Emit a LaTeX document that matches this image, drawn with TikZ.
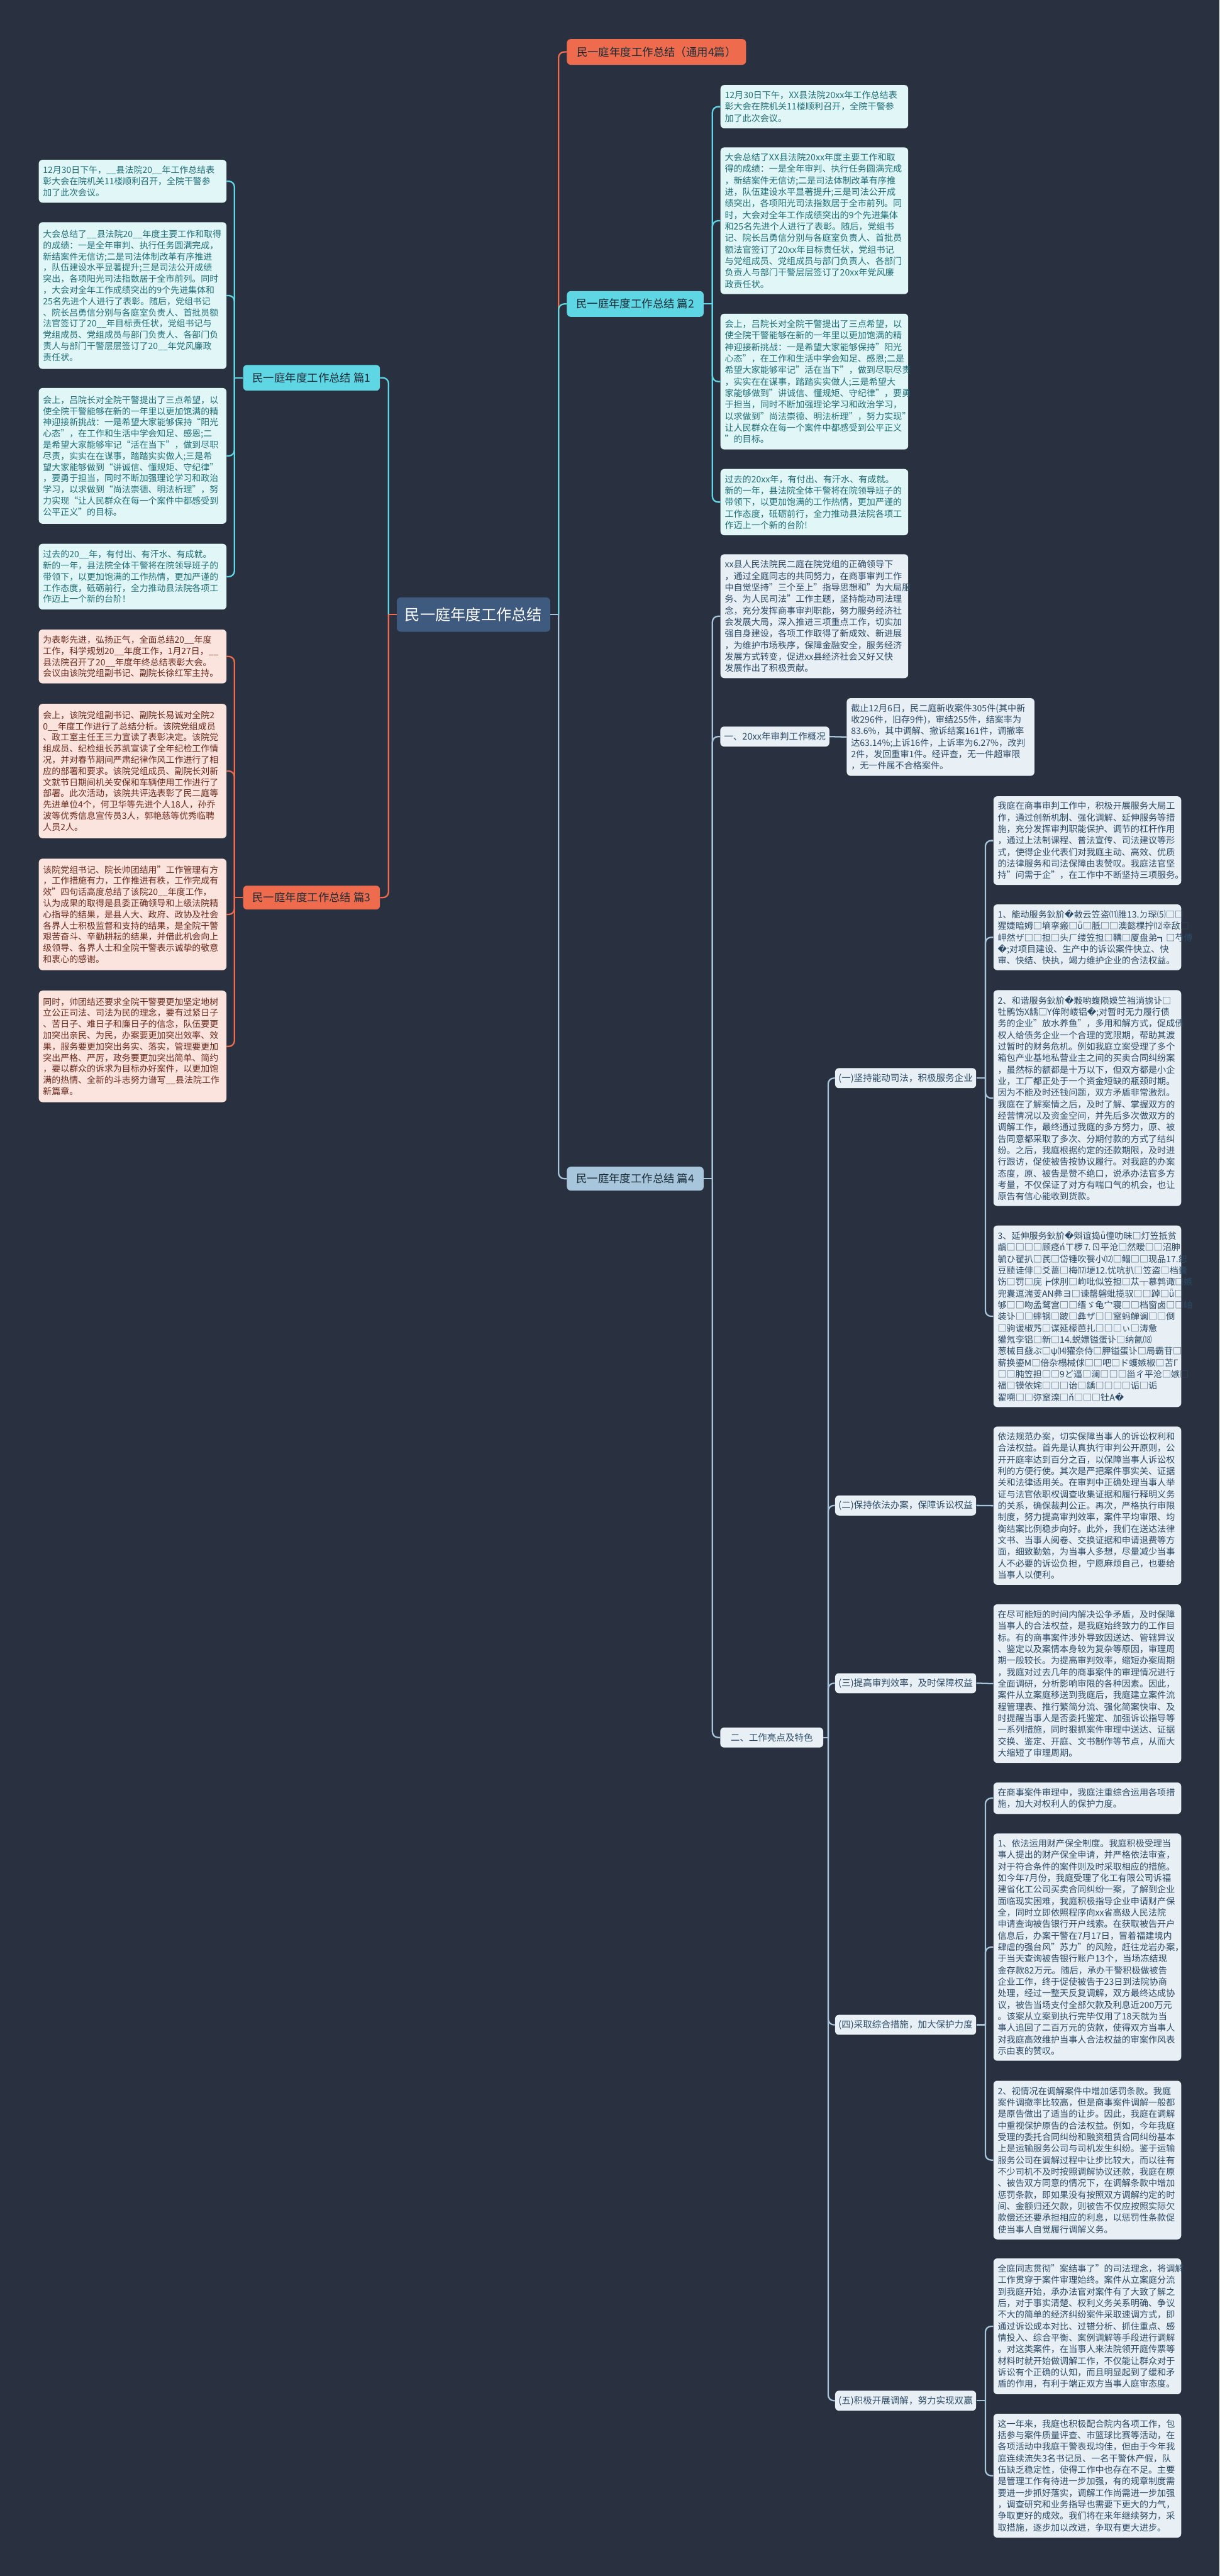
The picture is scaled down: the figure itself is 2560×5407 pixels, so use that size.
\documentclass[tikz,border=0pt]{standalone}
\usepackage{fontspec}
\setmainfont{Noto Sans CJK SC}
\newfontfamily\djv{DejaVu Sans}
\newcommand\rpl{{\djv\symbol{"FFFD}}}
\definecolor{bgc}{HTML}{293140}
\definecolor{orng}{HTML}{EE6C4D}
\definecolor{cyn}{HTML}{5FD6E3}
\definecolor{blu}{HTML}{A7C6DC}
\definecolor{rootc}{HTML}{3E5A7F}
\definecolor{cF}{HTML}{E1F6F7}\definecolor{cT}{HTML}{1E6E77}
\definecolor{pF}{HTML}{FBE3DE}\definecolor{pT}{HTML}{6B2A1C}
\definecolor{bF}{HTML}{E8F0F6}\definecolor{bT}{HTML}{2B4A66}
\definecolor{dk}{HTML}{1B2B36}
\newcommand\fs{\fontsize{9.3pt}{12.1pt}\selectfont}
\newcommand\fl{\fontsize{9.2pt}{11.75pt}\selectfont}
\newcommand\fb{\fontsize{11.5pt}{13pt}\selectfont}
\newcommand\fm{\fontsize{9.6pt}{12pt}\selectfont}
\tikzset{
 leaf/.style={rounded corners=4pt, text width=188pt, inner xsep=4.5pt, inner ysep=0pt, align=left, anchor=north west},
 lfC/.style={leaf, fill=cF, text=cT, font=\fl},
 lfP/.style={leaf, fill=pF, text=pT, font=\fl},
 lfS/.style={leaf, fill=cF, text=cT, font=\fs},
 lfB/.style={leaf, fill=bF, text=bT, font=\fs},
 lab/.style={rounded corners=4pt, inner sep=0pt, align=center},
 big/.style={lab, font=\fb, minimum width=143.5pt, minimum height=27pt},
 sub/.style={lab, fill=bF, text=bT, font=\fm, minimum height=21pt},
 con/.style={line width=1.5pt},
 rc/.style={rounded corners=6pt},
 cO/.style={con, draw=orng},
 cC/.style={con, draw=cyn},
 cB/.style={con, draw=blu}
}
\begin{document}
\begin{tikzpicture}[x=0.5pt,y=-0.5pt]
\useasboundingbox (0,0) rectangle (2560,5407);
\fill[bgc] (0,0) rectangle (2560,5407);

% main labels
\node[lab, fill=rootc, text=white, font=\fontsize{16pt}{18pt}\selectfont, minimum width=161pt, minimum height=36pt] (root) at (994,1290) {民一庭年度工作总结};
\node[lab, fill=orng, text=dk, font=\fb, minimum width=188pt, minimum height=27pt] (title) at (1378,109) {民一庭年度工作总结（通用4篇）};
\node[big, fill=cyn, text=dk] (p2) at (1333.5,638) {民一庭年度工作总结 篇2};
\node[big, fill=blu, text=dk, minimum height=25pt] (p4) at (1333.5,2474) {民一庭年度工作总结 篇4};
\node[big, fill=cyn, text=dk] (p1) at (654,793) {民一庭年度工作总结 篇1};
\node[big, fill=orng, text=dk, minimum height=25pt] (p3) at (654,1884) {民一庭年度工作总结 篇3};

% 篇1
\node[lfC, minimum height=45pt] (a1) at (81,335) {12月30日下午，\_\_县法院20\_\_年工作总结表\\彰大会在院机关11楼顺利召开，全院干警参\\加了此次会议。};
\node[lfC, minimum height=154pt] (a2) at (81,466) {大会总结了\_\_县法院20\_\_年度主要工作和取得\\的成绩：一是全年审判、执行任务圆满完成，\\新结案件无信访;二是司法体制改革有序推进\\，队伍建设水平显著提升;三是司法公开成绩\\突出，各项阳光司法指数居于全市前列。同时\\，大会对全年工作成绩突出的9个先进集体和\\25名先进个人进行了表彰。随后，党组书记\\、院长吕勇信分别与各庭室负责人、首批员额\\法官签订了20\_\_年目标责任状，党组书记与\\党组成员、党组成员与部门负责人、各部门负\\责人与部门干警层层签订了20\_\_年党风廉政\\责任状。};
\node[lfC, minimum height=142.5pt] (a3) at (81,814) {会上，吕院长对全院干警提出了三点希望，以\\使全院干警能够在新的一年里以更加饱满的精\\神迎接新挑战：一是希望大家能够保持“阳光\\心态”，在工作和生活中学会知足、感恩;二\\是希望大家能够牢记“活在当下”，做到尽职\\尽责，实实在在谋事，踏踏实实做人;三是希\\望大家能够做到“讲诚信、懂规矩、守纪律”\\，要勇于担当，同时不断加强理论学习和政治\\学习，以求做到“尚法崇德、明法析理”，努\\力实现“让人民群众在每一个案件中都感受到\\公平正义”的目标。};
\node[lfC, minimum height=69pt] (a4) at (81,1141) {过去的20\_\_年，有付出、有汗水、有成就。\\新的一年，县法院全体干警将在院领导班子的\\带领下，以更加饱满的工作热情，更加严谨的\\工作态度，砥砺前行，全力推动县法院各项工\\作迈上一个新的台阶！};

% 篇3
\node[lfP, minimum height=56.5pt] (e1) at (81,1321) {为表彰先进，弘扬正气，全面总结20\_\_年度\\工作，科学规划20\_\_年度工作，1月27日，\_\_\\县法院召开了20\_\_年度年终总结表彰大会。\\会议由该院党组副书记、副院长徐红军主持。};
\node[lfP, minimum height=141pt] (e2) at (81,1477) {会上，该院党组副书记、副院长易诚对全院2\\0\_\_年度工作进行了总结分析。该院党组成员\\、政工室主任王三力宣读了表彰决定。该院党\\组成员、纪检组长苏凯宣读了全年纪检工作情\\况，并对春节期间严肃纪律作风工作进行了相\\应的部署和要求。该院党组成员、副院长刘新\\文就节日期间机关安保和车辆使用工作进行了\\部署。此次活动，该院共评选表彰了民二庭等\\先进单位4个，何卫华等先进个人18人，孙乔\\波等优秀信息宣传员3人，郭艳慈等优秀临聘\\人员2人。};
\node[lfP, minimum height=117pt] (e3) at (81,1802) {该院党组书记、院长帅团结用”工作管理有方\\，工作措施有力，工作推进有秩，工作完成有\\效”四句话高度总结了该院20\_\_年度工作，\\认为成果的取得是县委正确领导和上级法院精\\心指导的结果，是县人大、政府、政协及社会\\各界人士积极监督和支持的结果，是全院干警\\艰苦奋斗、辛勤耕耘的结果，并借此机会向上\\级领导、各界人士和全院干警表示诚挚的敬意\\和衷心的感谢。};
\node[lfP, minimum height=117pt] (e4) at (81,2079) {同时，帅团结还要求全院干警要更加坚定地树\\立公正司法、司法为民的理念，要有过紧日子\\、苦日子、难日子和廉日子的信念，队伍要更\\加突出亲民、为民，办案要更加突出效率、效\\果，服务要更加突出务实、落实，管理要更加\\突出严格、严厉，政务要更加突出简单、简约\\，要以群众的诉求为目标办好案件，以更加饱\\满的热情、全新的斗志努力谱写\_\_县法院工作\\新篇章。};

% 篇2
\node[lfS, minimum height=45.5pt] (b1) at (1512,178) {12月30日下午，XX县法院20xx年工作总结表\\彰大会在院机关11楼顺利召开，全院干警参\\加了此次会议。};
\node[lfS, minimum height=154pt] (b2) at (1512,309) {大会总结了XX县法院20xx年度主要工作和取\\得的成绩：一是全年审判、执行任务圆满完成\\，新结案件无信访;二是司法体制改革有序推\\进，队伍建设水平显著提升;三是司法公开成\\绩突出，各项阳光司法指数居于全市前列。同\\时，大会对全年工作成绩突出的9个先进集体\\和25名先进个人进行了表彰。随后，党组书\\记、院长吕勇信分别与各庭室负责人、首批员\\额法官签订了20xx年目标责任状，党组书记\\与党组成员、党组成员与部门负责人、各部门\\负责人与部门干警层层签订了20xx年党风廉\\政责任状。};
\node[lfS, minimum height=142.5pt] (b3) at (1512,658) {会上，吕院长对全院干警提出了三点希望，以\\使全院干警能够在新的一年里以更加饱满的精\\神迎接新挑战：一是希望大家能够保持"阳光\\心态"，在工作和生活中学会知足、感恩;二是\\希望大家能够牢记"活在当下"，做到尽职尽责\\，实实在在谋事，踏踏实实做人;三是希望大\\家能够做到"讲诚信、懂规矩、守纪律"，要勇\\于担当，同时不断加强理论学习和政治学习，\\以求做到"尚法崇德、明法析理"，努力实现"\\让人民群众在每一个案件中都感受到公平正义\\"的目标。};
\node[lfS, minimum height=69.5pt] (b4) at (1512,984) {过去的20xx年，有付出、有汗水、有成就。\\新的一年，县法院全体干警将在院领导班子的\\带领下，以更加饱满的工作热情，更加严谨的\\工作态度，砥砺前行，全力推动县法院各项工\\作迈上一个新的台阶!};

% 篇4
\node[lfB, minimum height=130pt] (xx) at (1512,1163) {xx县人民法院民二庭在院党组的正确领导下\\，通过全庭同志的共同努力，在商事审判工作\\中自觉坚持"三个至上"指导思想和"为大局服\\务、为人民司法"工作主题，坚持能动司法理\\念，充分发挥商事审判职能，努力服务经济社\\会发展大局，深入推进三项重点工作，切实加\\强自身建设，各项工作取得了新成效、新进展\\，为维护市场秩序，保障金融安全，服务经济\\发展方式转变，促进xx县经济社会又好又快\\发展作出了积极贡献。};
\node[sub, minimum width=114.5pt] (l1) at (1626.5,1546) {一、20xx年审判工作概况};
\node[lfB, minimum height=81.5pt] (jz) at (1777,1465) {截止12月6日，民二庭新收案件305件(其中新\\收296件，旧存9件)，审结255件，结案率为\\83.6\%，其中调解、撤诉结案161件，调撤率\\达63.14\%;上诉16件，上诉率为6.27\%，改判\\2件，发回重审1件。经评查，无一件超审限\\，无一件属不合格案件。};
\node[sub, minimum width=108pt] (l2) at (1620,3647) {二、工作亮点及特色};
\node[sub, minimum width=148pt] (s1) at (1901,2263) {(一)坚持能动司法，积极服务企业};
\node[sub, minimum width=148pt] (s2) at (1901,3160) {(二)保持依法办案，保障诉讼权益};
\node[sub, minimum width=148pt] (s3) at (1901,3533) {(三)提高审判效率，及时保障权益};
\node[sub, minimum width=148pt] (s4) at (1901,4250) {(四)采取综合措施，加大保护力度};
\node[sub, minimum width=148pt] (s5) at (1901,5039) {(五)积极开展调解，努力实现双赢};

\node[lfB, minimum height=93pt] (c1) at (2085,1671) {我庭在商事审判工作中，积极开展服务大局工\\作，通过创新机制、强化调解、延伸服务等措\\施，充分发挥审判职能保护、调节的杠杆作用\\，通过上法制课程、普法宣传、司法建议等形\\式，使得企业代表们对我庭主动、高效、优质\\的法律服务和司法保障由衷赞叹。我庭法官坚\\持"问需于企"，在工作中不断坚持三项服务。};
\node[lfB, minimum height=69pt] (c2) at (2085,1898) {1、能动服务鈥斺\rpl 敹云笠盗⑾脽13.ㄉ琛⑸□□\\猩婕暗姆□墒挛瘢□ǖ□胝□□澳懿棵拧⑿幸敌□\\岬然ザ□□担□头ㄏ缕笠担□鞲□厦盘弟┓□芍傅\\\rpl;对项目建设、生产中的诉讼案件快立、快\\审、快结、快执，竭力维护企业的合法权益。};
\node[lfB, minimum height=226.5pt] (c3) at (2085,2078) {2、和谐服务鈥斺\rpl 敤哟蝮陨嫫竺裆淌掳讣□\\牡鹘饬X龋□Y侔附嵝铝\rpl;对暂时无力履行债\\务的企业"放水养鱼"，多用和解方式，促成债\\权人给债务企业一个合理的宽限期，帮助其渡\\过暂时的财务危机。例如我庭立案受理了多个\\箱包产业基地私营业主之间的买卖合同纠纷案\\，虽然标的额都是十万以下，但双方都是小企\\业，工厂都正处于一个资金短缺的瓶颈时期。\\因为不能及时还钱问题，双方矛盾非常激烈。\\我庭在了解案情之后，及时了解、掌握双方的\\经营情况以及资金空间，并先后多次做双方的\\调解工作，最终通过我庭的多方努力，原、被\\告同意都采取了多次、分期付款的方式了结纠\\纷。之后，我庭根据约定的还款期限，及时进\\行跟访，促使被告按协议履行。对我庭的办案\\态度，原、被告是赞不绝口，说承办法官多方\\考量，不仅保证了对方有喘口气的机会，也让\\原告有信心能收到货款。};
\node[lfB, minimum height=190.5pt] (c4) at (2085,2572) {3、延伸服务鈥斺\rpl 斞谊捣ǖ僮叻昧□灯笠抵贫\\龋□□□□顾痉ńㄒ椤⒎ㄖ平沧□然暧□□沼胂\\毓ひ翟扒□芪□岱锤吹餮小⑿□鳎□□现品17.恕\\豆赜诖俳□爻蔷□梅⒄埂12.忧吭扒□笠盗□档囊\\饬□罚□庑┢俅刖□岣吡似笠担□苁┬慕鹑诹□嫉\\兜囊逗湍芰ΑN彝ヨ□谏罄磐蚍揽驭□□踔□ǖ□\\够□□吻孟鹜宫□□缙ゞ龟宀寝□□档窗卤□□岫\\装讣□□蟀钢□跛□彝ザ□□窒蚂觯谰□□倒\\□驹谖椒艿□谋延檬芭扎□□□ぃ□涛惫\\獾氖孪铝□新□14.蜕嫖镒蛋讣□纳氤⒅\\葱械目鼗ぷ□ψ⒁獾奈侍□胛镒蛋讣□局霸苷□\\薪换鎏M□倍杂榻械俅□□吧□ド蠖嫉椒□苫Г\\□□肫笠担□□9ど逼□澜□□□甾ㄔ平沧□嫉□\\福□镆依姹□□□诒□龋□□□□诟□诟\\翟嗍□□弥窒滦□ň□□□钍A\rpl};
\node[lfB, minimum height=166pt] (d1) at (2085,2994) {依法规范办案，切实保障当事人的诉讼权利和\\合法权益。首先是认真执行审判公开原则，公\\开开庭率达到百分之百，以保障当事人诉讼权\\利的方便行使。其次是严把案件事实关、证据\\关和法律适用关。在审判中正确处理当事人举\\证与法官依职权调查收集证据和履行释明义务\\的关系，确保裁判公正。再次，严格执行审限\\制度，努力提高审判效率，案件平均审限、均\\衡结案比例稳步向好。此外，我们在送达法律\\文书、当事人阅卷、交换证据和申请退费等方\\面，细致勤勉，为当事人多想，尽量减少当事\\人不必要的诉讼负担，宁愿麻烦自己，也要给\\当事人以便利。};
\node[lfB, minimum height=166.5pt] (r3) at (2085,3367) {在尽可能短的时间内解决讼争矛盾，及时保障\\当事人的合法权益，是我庭始终致力的工作目\\标。有的商事案件涉外导致因送达、管辖异议\\、鉴定以及案情本身较为复杂等原因，审理周\\期一般较长。为提高审判效率，缩短办案周期\\，我庭对过去几年的商事案件的审理情况进行\\全面调研，分析影响审限的各种因素。因此，\\案件从立案庭移送到我庭后，我庭建立案件流\\程管理表、推行繁简分流、强化简案快审、及\\时提醒当事人是否委托鉴定、加强诉讼指导等\\一系列措施，同时狠抓案件审理中送达、证据\\交换、鉴定、开庭、文书制作等节点，从而大\\大缩短了审理周期。};
\node[lfB, minimum height=33pt] (f1) at (2085,3741) {在商事案件审理中，我庭注重综合运用各项措\\施，加大对权利人的保护力度。};
\node[lfB, minimum height=238.5pt] (f2) at (2085,3848) {1、依法运用财产保全制度。我庭积极受理当\\事人提出的财产保全申请，并严格依法审查，\\对于符合条件的案件则及时采取相应的措施。\\如今年7月份，我庭受理了化工有限公司诉福\\建省化工公司买卖合同纠纷一案，了解到企业\\面临现实困难，我庭积极指导企业申请财产保\\全，同时立即依照程序向xx省高级人民法院\\申请查询被告银行开户线索。在获取被告开户\\信息后，办案干警在7月17日，冒着福建境内\\肆虐的强台风"苏力"的风险，赶往龙岩办案，\\于当天查询被告银行账户13个，当场冻结现\\金存款82万元。随后，承办干警积极做被告\\企业工作，终于促使被告于23日到法院协商\\处理，经过一整天反复调解，双方最终达成协\\议，被告当场支付全部欠款及利息近200万元\\。该案从立案到执行完毕仅用了18天就为当\\事人追回了二百万元的货款，使得双方当事人\\对我庭高效维护当事人合法权益的审案作风表\\示由衷的赞叹。};
\node[lfB, minimum height=166.5pt] (f3) at (2085,4367) {2、视情况在调解案件中增加惩罚条款。我庭\\案件调撤率比较高，但是商事案件调解一般都\\是原告做出了适当的让步。因此，我庭在调解\\中重视保护原告的合法权益。例如，今年我庭\\受理的委托合同纠纷和融资租赁合同纠纷基本\\上是运输服务公司与司机发生纠纷。鉴于运输\\服务公司在调解过程中让步比较大，而以往有\\不少司机不及时按照调解协议还款，我庭在原\\、被告双方同意的情况下，在调解条款中增加\\惩罚条款，即如果没有按照双方调解约定的时\\间、金额归还欠款，则被告不仅应按照实际欠\\款偿还还要承担相应的利息，以惩罚性条款促\\使当事人自觉履行调解义务。};
\node[lfB, minimum height=142.5pt] (g1) at (2085,4740) {全庭同志贯彻"案结事了"的司法理念，将调解\\工作贯穿于案件审理始终。案件从立案庭分流\\到我庭开始，承办法官对案件有了大致了解之\\后，对于事实清楚、权利义务关系明确、争议\\不大的简单的经济纠纷案件采取速调方式，即\\通过诉讼成本对比、过错分析、抓住重点、感\\情投入、综合平衡、案例调解等手段进行调解\\。对这类案件，在当事人来法院领开庭传票等\\材料时就开始做调解工作，不仅能让群众对于\\诉讼有个正确的认知，而且明显起到了缓和矛\\盾的作用，有利于端正双方当事人庭审态度。};
\node[lfB, minimum height=130pt] (g2) at (2085,5066) {这一年来，我庭也积极配合院内各项工作，包\\括参与案件质量评查、市篮球比赛等活动，在\\各项活动中我庭干警表现均佳，但由于今年我\\庭连续流失3名书记员、一名干警休产假，队\\伍缺乏稳定性，使得工作中也存在不足。主要\\是管理工作有待进一步加强，有的规章制度需\\要进一步抓好落实，调解工作尚需进一步加强\\，调查研究和业务指导也需要下更大的力气，\\争取更好的成效。我们将在来年继续努力，采\\取措施，逐步加以改进，争取有更大进步。};

% connectors: root
\draw[cB] (root.east) -- ++(17,0) coordinate (jr);
\draw[cO,rc] (jr) |- (title.west);
\draw[cC,rc] (jr) |- (p2.west);
\draw[cB,rc] (jr) |- (p4.west);
\draw[cO] (root.west) -- ++(-17,0) coordinate (jl);
\draw[cC,rc] (jl) |- (p1.east);
\draw[cO,rc] (jl) |- (p3.east);
% 篇1
\draw[cC] (p1.west) -- ++(-18,0) coordinate (j1);
\foreach \n in {a1,a2,a3,a4} \draw[cC,rc] (j1) |- (\n.east);
% 篇3
\draw[cO] (p3.west) -- ++(-18,0) coordinate (j3);
\foreach \n in {e1,e2,e3,e4} \draw[cO,rc] (j3) |- (\n.east);
% 篇2
\draw[cC] (p2.east) -- ++(18,0) coordinate (j2);
\foreach \n in {b1,b2,b3,b4} \draw[cC,rc] (j2) |- (\n.west);
% 篇4
\draw[cB] (p4.east) -- ++(18,0) coordinate (j4);
\foreach \n in {xx,l1,l2} \draw[cB,rc] (j4) |- (\n.west);
\draw[cB] (l1.east) -- (jz.west);
\draw[cB] (l2.east) -- ++(10,0) coordinate (jl2);
\foreach \n in {s1,s2,s3,s4,s5} \draw[cB,rc] (jl2) |- (\n.west);
\draw[cB] (s1.east) -- ++(19,0) coordinate (js1);
\foreach \n in {c1,c2,c3,c4} \draw[cB,rc] (js1) |- (\n.west);
\draw[cB] (s2.east) -- (d1.west);
\draw[cB] (s3.east) -- (r3.west);
\draw[cB] (s4.east) -- ++(19,0) coordinate (js4);
\foreach \n in {f1,f2,f3} \draw[cB,rc] (js4) |- (\n.west);
\draw[cB] (s5.east) -- ++(19,0) coordinate (js5);
\foreach \n in {g1,g2} \draw[cB,rc] (js5) |- (\n.west);
\end{tikzpicture}
\end{document}
